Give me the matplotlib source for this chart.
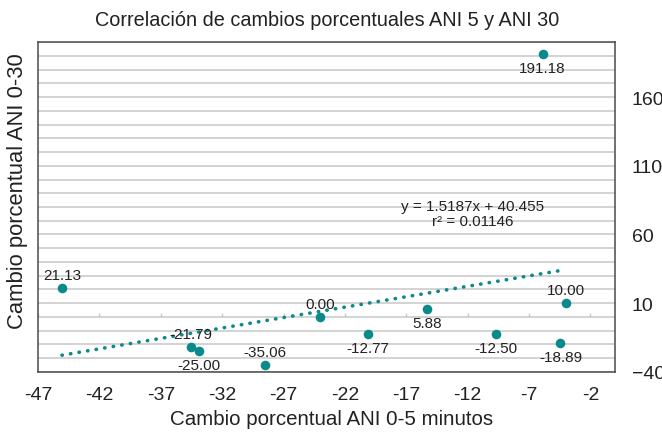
import numpy as np
import matplotlib
matplotlib.use("Agg")
import matplotlib.pyplot as plt
from matplotlib.ticker import FixedLocator, MultipleLocator

plt.rcParams['font.family'] = ['Liberation Sans', 'DejaVu Sans']

# Data
cambio_0_5 = [-45.05, -34.57, -33.89, -28.5, -24.0, -20.15, -15.3, -9.7, -4.44, -4.0, -5.9]
cambio_0_30 = [21.13, -21.79, -25.00, -35.06, 0.00, -12.77, 5.88, -12.50, -18.89, 10.00, 191.18]
label_side = ['above', 'above', 'below', 'above', 'above', 'below', 'below', 'below', 'below', 'above', 'below']

trend_slope = 1.5187
trend_intercept = 40.455
trend_r2 = 0.01146

x_ticks = np.arange(-47, -1, 5)
y_ticks = np.arange(-40, 201, 50)

teal = '#0b8a8c'
text_color = '#222222'

fig = plt.figure(figsize=(6.62, 4.35), dpi=100)
ax = fig.add_axes([0.0574, 0.1432, 0.8716, 0.7573])

x = np.array(cambio_0_5)
y = np.array(cambio_0_30)

# dotted linear trend line
xs = np.array([x.min(), x.max()])
ax.plot(xs, trend_slope * xs + trend_intercept, color=teal, lw=2.6,
        linestyle=(0, (0.1, 2.3)), dash_capstyle='round', zorder=3)

ax.scatter(x, y, s=48, color=teal, zorder=4, linewidths=0)

for xi, yi, side in zip(x, y, label_side):
    dy = 9.5 if side == 'above' else -10
    ax.annotate('%.2f' % yi, (xi, yi), xytext=(0, dy), textcoords='offset points',
                ha='center', va='center', fontsize=11, color=text_color, zorder=5)

ax.text(0.754, 0.48, 'y = %.4fx + %.3f\nr² = %.5f' % (trend_slope, trend_intercept, trend_r2),
        transform=ax.transAxes, ha='center', va='center', fontsize=11,
        color=text_color, linespacing=1.1)

# axes
ax.set_xlim(-47, 0)
ax.set_ylim(-40, 200)
ax.set_xticks(x_ticks)
ax.set_xticklabels([str(t) for t in x_ticks])
ax.yaxis.set_major_locator(FixedLocator(y_ticks))
ax.yaxis.set_minor_locator(MultipleLocator(10))
ax.yaxis.tick_right()
ax.tick_params(axis='x', length=0, pad=10, labelsize=14, labelcolor=text_color)
ax.tick_params(axis='y', which='both', length=0, pad=12, labelsize=14, labelcolor=text_color)
ax.grid(axis='y', which='both', color='#c8c8c8', lw=1.1)
ax.set_axisbelow(True)
for s in ax.spines.values():
    s.set_color('#4a4a4a')
    s.set_linewidth(1.1)

# horizontal axis crossing at y = 0 with small ticks
sec = ax.secondary_xaxis(40 / 240)
sec.set_xticks(x_ticks)
sec.tick_params(direction='out', length=3, color='#c8c8c8', width=1, labelbottom=False,
                labeltop=False, top=True, bottom=False)
sec.spines['top'].set_visible(False)
sec.spines['bottom'].set_visible(False)

ax.set_xlabel('Cambio porcentual ANI 0-5 minutos', fontsize=14.8, color=text_color)
ax.xaxis.set_label_coords(0.508, -0.159)
ax.xaxis.label.set_va('baseline')
ax.set_ylabel('Cambio porcentual ANI 0-30', fontsize=15.8, color=text_color)
ax.yaxis.set_label_position('left')
ax.yaxis.set_label_coords(-0.035, 0.55)
ax.yaxis.label.set_va('center')

fig.text(327 / 662, 1 - 20 / 435, 'Correlación de cambios porcentuales ANI 5 y ANI 30',
         ha='center', va='center', fontsize=14.3, color=text_color)

fig.savefig('out.png', dpi=100)
